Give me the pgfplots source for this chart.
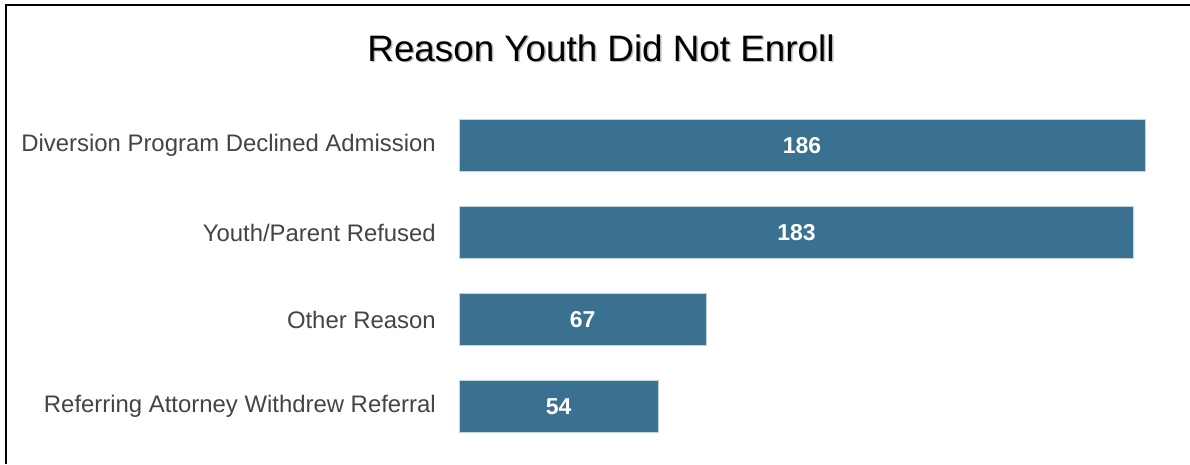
\documentclass[border=0pt]{standalone}
\usepackage{pgfplots}
\pgfplotsset{compat=1.18}
\usepackage{fontspec}
\setmainfont{Liberation Sans}
\definecolor{barc}{HTML}{3A7190}
\definecolor{baredge}{HTML}{C5D3DD}
\definecolor{lab}{HTML}{444444}
\begin{document}
\begin{tikzpicture}
\useasboundingbox (0,0) rectangle (1190pt,464pt);
\fill[white] (0,0) rectangle (1190pt,464pt);
\draw[line width=2pt] (6pt,0) -- (6pt,459pt) -- (1190pt,459pt);
\node[text=gray!55, font=\fontsize{36.8}{40}\selectfont] at (602.5pt,414.5pt) {Reason Youth Did Not Enroll};
\node[text=black, font=\fontsize{36.8}{40}\selectfont] at (601pt,416pt) {Reason Youth Did Not Enroll};
\begin{axis}[at={(459pt,14pt)}, anchor=south west, scale only axis,
  width=686pt, height=348pt, xmin=0, xmax=186, ymin=-0.5, ymax=3.5,
  axis line style={draw=none}, xtick=\empty, ytick={0,1,2,3},
  yticklabels={Referring Attorney Withdrew Referral, Other Reason, Youth/Parent Refused, Diversion Program Declined Admission},
  major tick length=0pt,
  yticklabel style={anchor=east, inner sep=0pt, xshift=-23pt, text=lab, font=\fontsize{23.9}{28}\selectfont},
  xbar, bar width=52pt, bar shift=0pt, clip=false,
  nodes near coords,
  /pgf/number format/assume math mode=true,
  visualization depends on={rawx \as \xv},
  every node near coord/.append style={anchor=center, xshift={-\xv*1.8441pt}, text=white, font=\bfseries\fontsize{23}{28}\selectfont}]
\addplot[fill=barc, draw=baredge, line width=1pt] coordinates {(186,3) (183,2) (67,1) (54,0)};
\end{axis}
\end{tikzpicture}
\end{document}
